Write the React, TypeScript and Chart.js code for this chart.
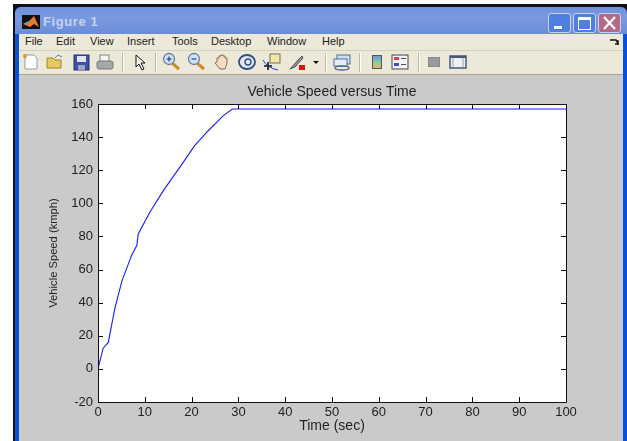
import React, { useEffect, useRef } from "react";
import { Chart, registerables } from "chart.js";

Chart.register(...registerables);

const timeSec = [0, 1.1, 2.2, 3.6, 5.1, 7.2, 8.3, 8.6, 11.1, 14, 17.5, 20.7, 23.6, 26.8, 28.7, 30, 100];
const speedKmph = [0, 12.5, 16, 36.6, 53, 68.7, 74.7, 81.5, 94.8, 107.8, 121.9, 135, 144, 153, 157, 157, 157];
const menuItems: [string, number][] = [["File", 25], ["Edit", 56], ["View", 90], ["Insert", 127], ["Tools", 172], ["Desktop", 211], ["Window", 267], ["Help", 322]];
const FONT = "'Liberation Sans', Arial, sans-serif";

const frame = {
  id: "frame",
  beforeDraw(c: any) {
    const { ctx, chartArea: a } = c;
    ctx.fillStyle = "#fff";
    ctx.fillRect(a.left, a.top, a.width, a.height);
  },
  afterDraw(c: any) {
    const { ctx, chartArea: a, scales } = c;
    ctx.save();
    ctx.strokeStyle = "#111";
    ctx.lineWidth = 1;
    ctx.beginPath();
    ctx.rect(a.left + 0.5, a.top + 0.5, a.width, a.height);
    const L = 5;
    for (const t of scales.x.ticks) {
      const p = Math.round(scales.x.getPixelForValue(t.value)) + 0.5;
      ctx.moveTo(p, a.top); ctx.lineTo(p, a.top + L);
      ctx.moveTo(p, a.bottom); ctx.lineTo(p, a.bottom - L);
    }
    for (const t of scales.y.ticks) {
      const p = Math.round(scales.y.getPixelForValue(t.value)) + 0.5;
      ctx.moveTo(a.left, p); ctx.lineTo(a.left + L, p);
      ctx.moveTo(a.right, p); ctx.lineTo(a.right - L, p);
    }
    ctx.stroke();
    ctx.restore();
  },
};

const Sep = ({ x }: { x: number }) => (
  <div style={{ position: "absolute", left: x, top: 53, width: 1, height: 19, background: "#bdb9a5", borderRight: "1px solid #fff" }} />
);

function Icon({ x, children }: { x: number; children: React.ReactNode }) {
  return (
    <svg width={20} height={20} viewBox="0 0 20 20" style={{ position: "absolute", left: x - 10, top: 52 }}>
      {children}
    </svg>
  );
}

const Lens = ({ sign }: { sign: string }) => (
  <>
    <line x1={11} y1={11} x2={18} y2={17} stroke="#d08a2c" strokeWidth={3} />
    <circle cx={8} cy={7} r={5.5} fill="#cfe3f5" stroke="#6a7f9a" strokeWidth={1.3} />
    <line x1={5.5} y1={7} x2={10.5} y2={7} stroke="#2040a0" strokeWidth={1.2} />
    {sign === "+" && <line x1={8} y1={4.5} x2={8} y2={9.5} stroke="#2040a0" strokeWidth={1.2} />}
  </>
);

export default function App() {
  const ref = useRef<HTMLCanvasElement>(null);
  useEffect(() => {
    document.body.style.margin = "0";
    document.body.style.background = "#fff";
    const font = { family: FONT, size: 13 };
    const chart = new Chart(ref.current!, {
      type: "line",
      data: {
        datasets: [{
          data: timeSec.map((t, i) => ({ x: t, y: speedKmph[i] })),
          borderColor: "#1a1aff",
          borderWidth: 1.1,
          pointRadius: 0,
          tension: 0,
        }],
      },
      options: {
        animation: false,
        responsive: false,
        layout: { padding: { right: 61, bottom: 0, left: 47, top: 0 } },
        plugins: {
          legend: { display: false },
          tooltip: { enabled: false },
          title: {
            display: true,
            text: "Vehicle Speed versus Time",
            fullSize: false,
            color: "#222",
            font: { family: FONT, size: 14, weight: "normal" },
            padding: { top: 84, bottom: 3.2 },
          },
        },
        scales: {
          x: {
            type: "linear",
            min: 0,
            max: 100,
            afterFit: (s: any) => { s.height = 39; },
            grid: { drawOnChartArea: false, drawTicks: false },
            border: { display: false },
            ticks: { stepSize: 10, color: "#222", font, padding: 3, maxRotation: 0 },
            title: { display: true, text: "Time (sec)", color: "#222", font: { family: FONT, size: 14 }, padding: { top: 0, bottom: 6 } },
          },
          y: {
            min: -20,
            max: 160,
            afterFit: (s: any) => { s.width = 51; },
            grid: { drawOnChartArea: false, drawTicks: false },
            border: { display: false },
            ticks: { stepSize: 20, color: "#222", font, padding: 5 },
            title: { display: true, text: "Vehicle Speed (kmph)", color: "#222", font: { family: FONT, size: 11.2 }, padding: { top: 0, bottom: 0 } },
          },
        },
      },
      plugins: [frame],
    } as any);
    return () => chart.destroy();
  }, []);

  return (
    <div style={{ position: "relative", width: 627, height: 441, overflow: "hidden", background: "#fff" }}>
      <div style={{ position: "absolute", left: 13, top: 4, right: 0, bottom: 0, background: "#111" }} />
      <div style={{ position: "absolute", left: 15, top: 7, right: 0, bottom: 0, background: "#0a4fe0", borderRadius: "6px 6px 0 0" }} />
      <div style={{ position: "absolute", left: 15, top: 7, right: 0, height: 27, background: "linear-gradient(#6f90dc, #7a9ae0 40%, #6a8cd8)", borderRadius: "6px 6px 0 0" }} />
      <svg width={18} height={14} style={{ position: "absolute", left: 22, top: 15 }}>
        <rect width={18} height={14} fill="#111" />
        <path d="M1 9 L7 6 L12 1 L17 12 L12 9 L8 12 Z" fill="#e8792a" />
        <path d="M1 9 L7 6 L6 9 Z" fill="#3ab0c8" />
      </svg>
      <div style={{ position: "absolute", left: 43, top: 14, fontFamily: FONT, fontWeight: 700, fontSize: 13, letterSpacing: 0.6, color: "#c3d2f2", whiteSpace: "nowrap" }}>Figure 1</div>
      {[548, 573].map((x, i) => (
        <div key={x} style={{ position: "absolute", left: x, top: 13, width: 21, height: 18, borderRadius: 3, background: "#4f7fe0", border: "1px solid #c5d3f2", boxSizing: "content-box" }}>
          {i === 0
            ? <div style={{ position: "absolute", left: 5, top: 12, width: 8, height: 3, background: "#fff" }} />
            : <div style={{ position: "absolute", left: 4, top: 3, width: 11, height: 9, border: "1px solid #fff", borderTopWidth: 3 }} />}
        </div>
      ))}
      <div style={{ position: "absolute", left: 598, top: 13, width: 21, height: 18, borderRadius: 3, background: "#b46a84", border: "1px solid #c5d3f2" }}>
        <svg width={21} height={18}>
          <path d="M5 3 L16 15 M16 3 L5 15" stroke="#fff" strokeWidth={2.4} />
        </svg>
      </div>

      <div style={{ position: "absolute", left: 19, top: 34, right: 4, height: 17, background: "#ece9d8", borderBottom: "1px solid #d4d0bd", boxSizing: "border-box" }} />
      {menuItems.map(([m, x]) => (
        <div key={m} style={{ position: "absolute", left: x, top: 35, fontFamily: FONT, fontSize: 11, color: "#222", whiteSpace: "nowrap" }}>{m}</div>
      ))}
      <svg width={10} height={7} style={{ position: "absolute", left: 610, top: 39 }}>
        <path d="M0 1 H6 L8 5 M8 1 V6 M5 5 H9" stroke="#111" strokeWidth={1.3} fill="none" />
      </svg>

      <div style={{ position: "absolute", left: 19, top: 51, right: 4, height: 24, background: "#ece9d8", borderBottom: "1px solid #a9a694", boxSizing: "border-box" }} />
      <Icon x={31}><path d="M4 3 H13 L16 6 V17 H4 Z" fill="#fff" stroke="#8a9ab0" /><circle cx={4} cy={4} r={2} fill="#e8902a" /></Icon>
      <Icon x={55}><path d="M2 6 H8 L10 8 H16 V16 H2 Z" fill="#e8c860" stroke="#a08830" /><path d="M10 6 L13 3 L17 5" stroke="#5a80b0" fill="none" /></Icon>
      <Icon x={81}><rect x={3} y={3} width={15} height={15} fill="#3f4fa8" stroke="#2a3070" /><rect x={6} y={4} width={9} height={6} fill="#dfe4f4" /><rect x={7} y={13} width={7} height={5} fill="#9aa4c8" /></Icon>
      <Icon x={105}><rect x={5} y={3} width={9} height={7} fill="#f4f4f4" stroke="#888" /><rect x={2} y={9} width={16} height={8} rx={2} fill="#a8a8a8" stroke="#777" /></Icon>
      <Sep x={122} />
      <Icon x={140}><path d="M6 3 L6 15 L9 12 L12 18 L14 17 L11 11 L15 11 Z" fill="#fff" stroke="#111" /></Icon>
      <Sep x={155} />
      <Icon x={171}><Lens sign="+" /></Icon>
      <Icon x={196}><Lens sign="-" /></Icon>
      <Icon x={222}><path d="M5 10 V6 L7 6 V4 H9 V3 H11 V4 H13 V6 H15 V11 L13 17 H8 L3 11 Z" fill="#f6dcc0" stroke="#8a6a50" /></Icon>
      <Icon x={247}><ellipse cx={10} cy={10} rx={8} ry={7} fill="#e8e8f0" stroke="#30508a" strokeWidth={1.8} /><circle cx={11} cy={10} r={3} fill="none" stroke="#30508a" strokeWidth={1.4} /></Icon>
      <Icon x={272}><rect x={8} y={2} width={10} height={9} fill="#f0e8a8" stroke="#707050" /><path d="M2 14 H10 M6 10 V18" stroke="#111" strokeWidth={1.6} /><path d="M1 8 Q5 16 16 18" stroke="#2040c0" fill="none" /></Icon>
      <Icon x={297}><path d="M3 17 L12 7 L15 4 L16 6 L8 15 Z" fill="#8a94a8" stroke="#555" /><rect x={12} y={13} width={6} height={5} fill="#e01010" /></Icon>
      <svg width={6} height={4} style={{ position: "absolute", left: 313, top: 61 }}><path d="M0 0 H6 L3 3 Z" fill="#111" /></svg>
      <Sep x={325} />
      <Icon x={342}><rect x={5} y={3} width={13} height={9} fill="#cfe0f4" stroke="#506a90" /><rect x={2} y={7} width={13} height={7} fill="#e8eef8" stroke="#506a90" /><ellipse cx={10} cy={16} rx={7} ry={2} fill="none" stroke="#506a90" strokeWidth={1.4} /></Icon>
      <Sep x={359} />
      <svg width={10} height={14} style={{ position: "absolute", left: 372, top: 55 }}>
        <defs><linearGradient id="cb" x1="0" y1="0" x2="0" y2="1"><stop offset="0" stopColor="#6a90e0" /><stop offset="0.5" stopColor="#80d0a0" /><stop offset="1" stopColor="#f0b060" /></linearGradient></defs>
        <rect x={0.5} y={0.5} width={9} height={13} fill="url(#cb)" stroke="#555" />
      </svg>
      <Icon x={400}><rect x={2} y={3} width={16} height={14} fill="#f4f4f4" stroke="#445" /><rect x={4} y={5} width={5} height={3} fill="#e04040" /><rect x={4} y={11} width={5} height={3} fill="#4050d0" /><path d="M11 6.5 H16 M11 12.5 H16" stroke="#555" /></Icon>
      <Sep x={418} />
      <svg width={12} height={10} style={{ position: "absolute", left: 428, top: 57 }}><rect width={12} height={10} rx={1} fill="#9a9a9a" stroke="#777" /></svg>
      <Icon x={458}><rect x={2} y={4} width={16} height={12} fill="#eef0f4" stroke="#445a78" strokeWidth={1.5} /><rect x={2} y={4} width={16} height={2} fill="#445a78" /><path d="M5 6 V15 M15 6 V15" stroke="#9aa4b8" /></Icon>

      <div style={{ position: "absolute", left: 19, top: 75, right: 4, bottom: 0, background: "#cacaca" }} />
      <canvas ref={ref} width={627} height={441} style={{ position: "absolute", left: 0, top: 0, display: "block" }} />
    </div>
  );
}
